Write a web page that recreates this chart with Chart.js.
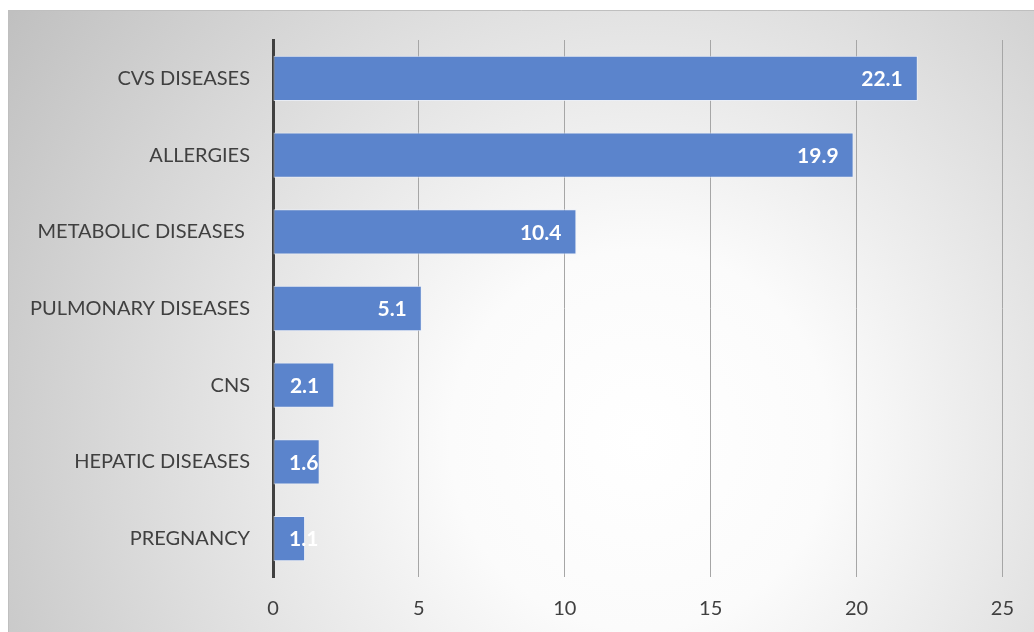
<!DOCTYPE html>
<html><head><meta charset="utf-8">
<script src="https://cdn.jsdelivr.net/npm/chart.js@4"></script>
<style>html,body{margin:0;padding:0;background:#fff;}#wrap{width:1034px;height:632px;position:relative;}</style>
</head><body><div id="wrap"><canvas id="c" width="1034" height="632"></canvas></div>
<script>
const categories = ["CVS DISEASES","ALLERGIES","METABOLIC DISEASES ","PULMONARY DISEASES","CNS","HEPATIC DISEASES","PREGNANCY"];
const values = [22.1, 19.9, 10.4, 5.1, 2.1, 1.6, 1.1];
const xTicks = [0, 5, 10, 15, 20, 25];

const bgPlugin = {
  id: 'bg',
  beforeDraw(chart) {
    const ctx = chart.ctx;
    ctx.save();
    ctx.fillStyle = '#ffffff';
    ctx.fillRect(0, 0, 1034, 632);
    const g = ctx.createRadialGradient(640, 440, 0, 640, 440, 760);
    g.addColorStop(0, '#ffffff');
    g.addColorStop(0.25, '#fbfbfb');
    g.addColorStop(1, '#c0c0c0');
    ctx.fillStyle = g;
    ctx.fillRect(8, 10, 1026, 622);
    ctx.strokeStyle = '#bfbfbf';
    ctx.lineWidth = 1;
    ctx.beginPath();
    ctx.moveTo(8.5, 632); ctx.lineTo(8.5, 10.5); ctx.lineTo(1034, 10.5);
    ctx.stroke();
    ctx.restore();
  }
};

const labelPlugin = {
  id: 'vals',
  afterDatasetsDraw(chart) {
    const ctx = chart.ctx;
    const meta = chart.getDatasetMeta(0);
    const base = chart.scales.x.getPixelForValue(0);
    ctx.save();
    ctx.font = 'bold 21px Lato';
    ctx.fillStyle = '#ffffff';
    ctx.textBaseline = 'middle';
    ctx.textAlign = 'right';
    meta.data.forEach((bar, i) => {
      const txt = String(values[i].toFixed(1));
      const w = ctx.measureText(txt).width;
      const xr = Math.max(bar.x - 15, base + 16 + w);
      ctx.fillText(txt, xr, bar.y + 1);
    });
    ctx.restore();
  }
};

new Chart(document.getElementById('c'), {
  type: 'bar',
  data: {
    labels: categories,
    datasets: [{
      data: values,
      backgroundColor: '#5b84cc',
      borderColor: 'rgba(235,240,250,0.8)',
      borderWidth: 1,
      borderSkipped: false,
      categoryPercentage: 1,
      barPercentage: 0.59
    }]
  },
  options: {
    indexAxis: 'y',
    responsive: false,
    animation: false,
    devicePixelRatio: 1,
    layout: { padding: { top: 40, right: 27, left: 0, bottom: 0 } },
    plugins: { legend: { display: false }, tooltip: { enabled: false } },
    scales: {
      x: {
        min: 0, max: 25,
        afterBuildTicks(scale) { scale.ticks = xTicks.map(v => ({ value: v })); },
        afterFit(scale) { scale.height = 55; },
        grid: {
          color: (c) => c.tick && c.tick.value === 0 ? 'rgba(0,0,0,0)' : '#a6a6a6',
          lineWidth: 1,
          drawTicks: false
        },
        border: { display: false },
        ticks: { color: '#404040', font: { family: 'Lato', size: 20 }, padding: 20 }
      },
      y: {
        afterFit(scale) { scale.width = 273; },
        grid: { display: false, drawTicks: false },
        border: { display: true, color: '#404040', width: 3 },
        ticks: { color: '#404040', font: { family: 'Lato', size: 20 }, padding: 23 }
      }
    }
  },
  plugins: [bgPlugin, labelPlugin]
});
</script></body></html>
